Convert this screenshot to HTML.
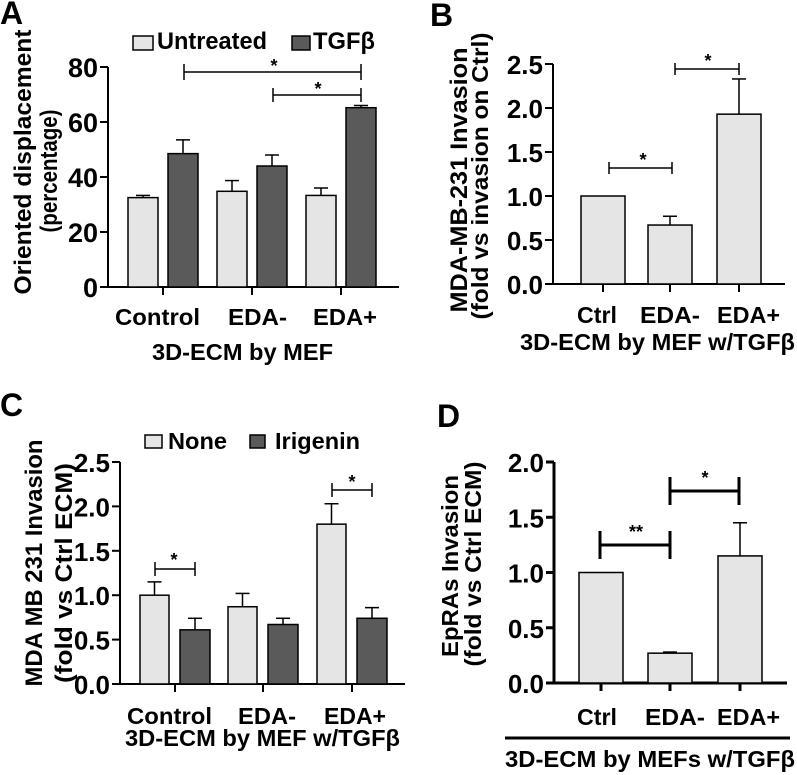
<!DOCTYPE html>
<html><head><meta charset="utf-8"><style>
body{margin:0;background:#fff}
svg{display:block;font-family:"Liberation Sans",Arial,sans-serif;font-weight:bold}
</style></head><body>
<svg id="fig" width="797" height="775" viewBox="0 0 797 775"></svg>
<script>
// Panel A data
const aCats=["Control","EDA-","EDA+"];
const aUntreated=[32.5,34.8,33.3];
const aUntreatedErr=[0.8,3.9,2.7];
const aTGF=[48.5,44,65.2];
const aTGFErr=[5,4,0.8];
const aTicks=[0,20,40,60,80];
// Panel B data
const bCats=["Ctrl","EDA-","EDA+"];
const bVals=[1.0,0.67,1.93];
const bErr=[0,0.1,0.4];
const bTicks=["0.0","0.5","1.0","1.5","2.0","2.5"];
// Panel C data
const cCats=["Control","EDA-","EDA+"];
const cNone=[1.0,0.87,1.8];
const cNoneErr=[0.15,0.15,0.23];
const cIrig=[0.61,0.67,0.74];
const cIrigErr=[0.13,0.07,0.12];
const cTicks=["0.0","0.5","1.0","1.5","2.0","2.5"];
// Panel D data
const dCats=["Ctrl","EDA-","EDA+"];
const dVals=[1.0,0.27,1.15];
const dErr=[0,0.01,0.3];
const dTicks=["0.0","0.5","1.0","1.5","2.0"];

const NS="http://www.w3.org/2000/svg";
const svg=document.getElementById('fig');
function el(tag,attrs,parent,text){const e=document.createElementNS(NS,tag);for(const k in attrs)e.setAttribute(k,attrs[k]);if(text!==undefined)e.textContent=text;(parent||svg).appendChild(e);return e;}
const LIGHT="#e5e5e5",DARK="#5a5a5a";

function axes(g,x0,y0,x1,yTop,ticks,scale,lw,fs,catX,cats,labY,catLens){
  const a=el('line',{x1:x0,y1:y0,x2:x0,y2:yTop,stroke:'#000','stroke-width':lw},g);
  
  const b=el('line',{x1:x0,y1:y0,x2:x1,y2:y0,stroke:'#000','stroke-width':lw},g);
  
  ticks.forEach(t=>{const y=scale(parseFloat(t));
    el('line',{x1:x0-8,y1:y,x2:x0,y2:y,stroke:'#000','stroke-width':lw},g);
    const tx=el('text',{x:x0-10,y:y+10,'text-anchor':'end','font-size':fs},g,t);
    });
  catX.forEach((cx,i)=>{el('line',{x1:cx,y1:y0,x2:cx,y2:y0+8,stroke:'#000','stroke-width':lw},g);});
  cats.forEach((c,i)=>{const L=catLens[i];
    const tx=el('text',{x:L[0],y:labY,'font-size':23,textLength:L[1],lengthAdjust:'spacingAndGlyphs'},g,c);
    });
}
function bar(g,x,w,v,err,scale,fill,lw,name){
  const y0=scale(0),y=scale(v);
  if(err>0){el('line',{x1:x+w/2,y1:y,x2:x+w/2,y2:scale(v+err),stroke:'#000','stroke-width':lw},g);
    el('line',{x1:x+w/2-7,y1:scale(v+err),x2:x+w/2+7,y2:scale(v+err),stroke:'#000','stroke-width':lw},g);}
  const r=el('rect',{x:x,y:y,width:w,height:y0-y,fill:fill,stroke:'#000','stroke-width':lw},g);
  
}
function bracket(g,xa,xb,y,h,lw,star,sx,sy,fs){
  const p=el('path',{d:`M${xa},${y-h}V${y+h}M${xa},${y}H${xb}M${xb},${y-h}V${y+h}`,stroke:'#000','stroke-width':lw,fill:'none'},g);
  
  const t=el('text',{x:sx,y:sy,'text-anchor':'middle','font-size':fs},g,star);
  
}
// lines: [text, baselineX, centerY, length, fontSize]
function ytitle(g,lines){
  lines.forEach(l=>{const t=el('text',{x:0,y:0,'text-anchor':'middle','font-size':l[4],textLength:l[3],lengthAdjust:'spacingAndGlyphs',transform:`translate(${l[1]},${l[2]}) rotate(-90)`},g,l[0]);
    });
}
function label(g,x,y,s,fs,name,len){const a={x:x,y:y,'font-size':fs};if(len){a.textLength=len;a.lengthAdjust='spacingAndGlyphs';}
  const t=el('text',a,g,s);
  return t;}
function legendBox(g,x,y,w,h,fill){const r=el('rect',{x:x,y:y,width:w,height:h,fill:fill,stroke:'#000','stroke-width':1.5},g);
  }

// ---- Panel A
(function(){
  const g=el('g',{});
  const sc=v=>287-v*(220/80);
  label(g,0,24,'A',32,'panel-label-a');
  legendBox(g,133,36,20,14,LIGHT);label(g,157,49,'Untreated',24,'legend-entry',110);
  legendBox(g,292,36,18,14,DARK);label(g,313,49,'TGFβ',24,'legend-entry',62);
  const catX=[163,252,341];
  axes(g,108,287,399,67,aTicks.map(String),sc,2,27,catX,aCats,325,[[115,85],[228,59],[313,64]]);
  catX.forEach((cx,i)=>{bar(g,cx-35,30,aUntreated[i],aUntreatedErr[i],sc,LIGHT,1.5,'bar-untreated');
    bar(g,cx+5,30,aTGF[i],aTGFErr[i],sc,DARK,1.5,'bar-tgfb');});
  bracket(g,184,361,72,8,1.5,'*',274,72,18);
  bracket(g,273,361,95,7,1.5,'*',318,95,18);
  ytitle(g,[['Oriented displacement',31,162,265,24],['(percentage)',57,171,123,24]]);
  label(g,152,360,'3D-ECM by MEF',23,'x-axis-title',181);
})();
// ---- Panel B
(function(){
  const g=el('g',{});
  const sc=v=>284-v*88;
  label(g,430,26,'B',32,'panel-label-b');
  const catX=[603,670,739];
  axes(g,553,284,785,64,bTicks,sc,2,26,catX,bCats,323,[[577,40],[640,60],[717,63]]);
  catX.forEach((cx,i)=>bar(g,cx-22,44,bVals[i],bErr[i],sc,LIGHT,1.5,'bar-'+bCats[i].toLowerCase()));
  bracket(g,609,672,168,6,1.5,'*',643,166,18);
  bracket(g,675,739,69,6,1.5,'*',708,67,18);
  ytitle(g,[['MDA-MB-231 Invasion',467,180,265,24],['(fold vs invasion on Ctrl)',488,176,287,23]]);
  label(g,520,350,'3D-ECM by MEF w/TGFβ',23,'x-axis-title',275);
})();
// ---- Panel C
(function(){
  const g=el('g',{});
  const sc=v=>684-v*88.8;
  label(g,0,416,'C',32,'panel-label-c');
  legendBox(g,145,435,17,13,LIGHT);label(g,168,449,'None',23,'legend-entry',59);
  legendBox(g,250,435,15,13,DARK);label(g,275,449,'Irigenin',23,'legend-entry',85);
  const catX=[175,263,352];
  axes(g,120,684,405,462,cTicks,sc,2,26,catX,cCats,724,[[127,85],[238,58],[324,62]]);
  catX.forEach((cx,i)=>{bar(g,cx-35,29,cNone[i],cNoneErr[i],sc,LIGHT,1.5,'bar-none');
    bar(g,cx+5,30,cIrig[i],cIrigErr[i],sc,DARK,1.5,'bar-irigenin');});
  bracket(g,155,195,569,7,1.5,'*',174,566,18);
  bracket(g,332,372,490,7,1.5,'*',352,488,18);
  ytitle(g,[['MDA MB 231 Invasion',42,563,247,24],['(fold vs Ctrl ECM)',72,573,220,24]]);
  label(g,125,746,'3D-ECM by MEF w/TGFβ',23,'x-axis-title',275);
})();
// ---- Panel D
(function(){
  const g=el('g',{});
  const sc=v=>683-v*110.5;
  label(g,437,427,'D',32,'panel-label-d');
  const catX=[601,670,740];
  axes(g,554,683,787,462,dTicks,sc,3,26,catX,dCats,725,[[577,40],[645,60],[717,63]]);
  catX.forEach((cx,i)=>bar(g,cx-22,44,dVals[i],dErr[i],sc,LIGHT,1.5,'bar-'+dCats[i].toLowerCase()));
  bracket(g,600,670,545,14,3,'**',636,538,18);
  bracket(g,670,739,491,14,3,'*',705,484,18);
  const hl=el('line',{x1:505,y1:738,x2:790,y2:738,stroke:'#000','stroke-width':3},g);
  
  ytitle(g,[['EpRAs Invasion',458,566,182,23],['(fold vs  Ctrl ECM)',481,564,205,23]]);
  label(g,505,767,'3D-ECM by MEFs w/TGFβ',23,'x-axis-title',290);
})();
</script>
</body></html>
